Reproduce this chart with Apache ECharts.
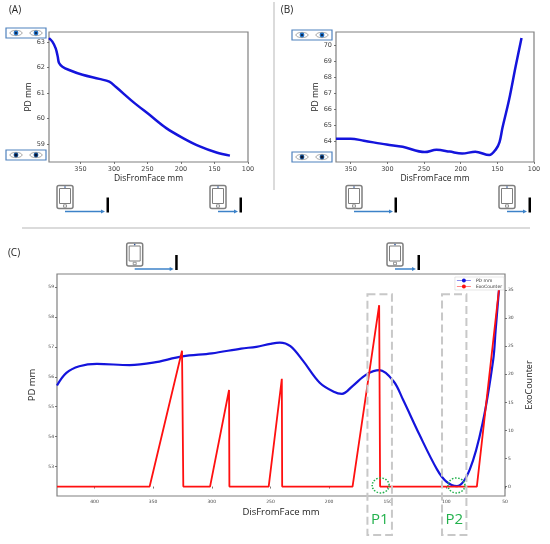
<!DOCTYPE html>
<html>
<head>
<meta charset="utf-8">
<script src="https://cdn.jsdelivr.net/npm/echarts@6/dist/echarts.min.js"></script>
<style>
html, body { margin: 0; padding: 0; background: #fff; }
#main { width: 550px; height: 544px; }
</style>
</head>
<body>
<div id="main"></div>
<script>
// (A) PD vs distance, far -> near
var aDist = [397, 392, 387, 384, 382, 377, 367, 347, 322, 307, 297, 272, 247, 222, 197, 172, 147, 127];
var aPD = [63.16, 63.02, 62.76, 62.44, 62.18, 62.04, 61.91, 61.72, 61.56, 61.45, 61.24, 60.67, 60.15, 59.63, 59.24, 58.91, 58.67, 58.55];
var aXTicks = [350, 300, 250, 200, 150, 100];
var aYTicks = [59, 60, 61, 62, 63];

// (B)
var bDist = [370, 350, 332, 301, 279, 249, 233, 215, 198, 180, 161, 152, 147, 143, 134, 125, 117];
var bPD = [64.17, 64.17, 64.04, 63.8, 63.66, 63.33, 63.47, 63.36, 63.24, 63.35, 63.14, 63.5, 63.95, 64.85, 66.6, 68.7, 70.46];
var bXTicks = [350, 300, 250, 200, 150, 100];
var bYTicks = [64, 65, 66, 67, 68, 69, 70];

// (C) PD mm and ExoCounter
var cDist = [432, 424, 413, 398, 370, 350, 325, 300, 275, 262, 250, 242, 233, 222, 208, 196, 189, 180, 168, 157, 145, 137, 123, 108, 100, 91, 80, 69, 60, 58, 55];
var cPD = [55.71, 56.13, 56.35, 56.43, 56.39, 56.47, 56.68, 56.78, 56.94, 57.0, 57.1, 57.14, 57.02, 56.52, 55.8, 55.5, 55.43, 55.69, 56.08, 56.22, 55.85, 55.24, 54.07, 52.91, 52.5, 52.35, 52.91, 54.47, 56.58, 57.55, 58.97];
var exoDist = [432, 353, 325.4, 324.3, 301.5, 285.3, 285, 251.5, 240.3, 240, 180, 157.3, 156.5, 74, 54.5];
var exoCount = [0, 0, 24.2, 0, 0, 17.2, 0, 0, 19.2, 0, 0, 32.3, 0, 0, 36.3];
var cXTicks = [400, 350, 300, 250, 200, 150, 100, 50];
var cYTicks = [53, 54, 55, 56, 57, 58, 59];
var exoTicks = [0, 5, 10, 15, 20, 25, 30, 35];

// annotated zones on (C)
var zoneNames = ['P1', 'P2'];
var zoneRanges = [[167.3, 146.4], [103.7, 82.9]];
var zoneCentres = [156, 91.4];

function pairs(xs, ys) {
    return xs.map(function(x, i) { return [x, ys[i]]; });
}

var blue = '#1414dc';
var red = '#ff1010';
var green = '#22b14c';

function axis(o) {
    var fs = o.small ? 4.5 : 6.5;
    return {
        type: 'value',
        gridIndex: o.grid,
        position: o.position,
        min: o.min,
        max: o.max,
        inverse: !!o.inverse,
        name: o.name,
        nameLocation: 'middle',
        nameGap: o.nameGap,
        nameTextStyle: { fontFamily: 'Open Sans', fontSize: o.nameSize, color: '#222' },
        axisLine: { show: false },
        axisTick: { show: true, customValues: o.ticks, length: 2, lineStyle: { color: '#555', width: 0.8 } },
        axisLabel: { customValues: o.ticks, fontFamily: 'DejaVu Sans', fontSize: fs, color: '#444', margin: o.small ? 3 : 4 },
        splitLine: { show: false }
    };
}

function tabletIcon(x, y, len) {
    var ay = y + 26;
    var ex = x + 8 + len;
    return {
        type: 'group',
        children: [
            { type: 'rect', shape: { x: x, y: y, width: 16, height: 23, r: 2 }, style: { fill: '#fff', stroke: '#7f7f7f', lineWidth: 1.5 } },
            { type: 'rect', shape: { x: x + 2.5, y: y + 3, width: 11, height: 15 }, style: { fill: 'none', stroke: '#7f7f7f', lineWidth: 1 } },
            { type: 'circle', shape: { cx: x + 8, cy: y + 1.6, r: 0.8 }, style: { fill: '#2f5597' } },
            { type: 'rect', shape: { x: x + 6.5, y: y + 19.3, width: 3, height: 2.4 }, style: { fill: 'none', stroke: '#7f7f7f', lineWidth: 0.8 } },
            { type: 'line', shape: { x1: x + 8, y1: ay, x2: ex - 3, y2: ay }, style: { stroke: '#3c82c8', lineWidth: 1.5 } },
            { type: 'polygon', shape: { points: [[ex, ay], [ex - 4, ay - 2], [ex - 4, ay + 2]] }, style: { fill: '#3c82c8' } },
            { type: 'rect', shape: { x: ex + 1.5, y: y + 12, width: 2.5, height: 15 }, style: { fill: '#000' } }
        ]
    };
}

function eyeBox(x, y, near) {
    var kids = [
        { type: 'rect', shape: { x: x, y: y, width: 40, height: 10 }, style: { fill: '#fff', stroke: '#4f81bd', lineWidth: 1.2 } }
    ];
    [x + 10, x + 30].forEach(function(cx) {
        var cy = y + 5;
        kids.push({ type: 'ellipse', shape: { cx: cx, cy: cy, rx: 6, ry: 2.6 }, style: { fill: '#fff', stroke: '#8c8c8c', lineWidth: 0.8 } });
        kids.push({ type: 'circle', shape: { cx: cx, cy: cy, r: 2.4 }, style: { fill: near ? '#1b5a9e' : '#1f70c4' } });
        kids.push({ type: 'circle', shape: { cx: cx, cy: cy, r: near ? 1.5 : 1 }, style: { fill: '#0a1430' } });
    });
    return { type: 'group', children: kids };
}

function label(text, x, y) {
    return { type: 'text', x: x, y: y, style: { text: text, fontFamily: 'Open Sans', fontSize: 10, fill: '#222', align: 'center', verticalAlign: 'middle' } };
}

var chart = echarts.init(document.getElementById('main'), null, { renderer: 'canvas' });

var gridStyle = { show: true, borderColor: '#808080', borderWidth: 1.2, backgroundColor: '#fff' };

var option = {
    animation: false,
    backgroundColor: '#fff',
    grid: [
        Object.assign({ left: 49, top: 32, width: 199, height: 130 }, gridStyle),
        Object.assign({ left: 336, top: 32, width: 198, height: 130 }, gridStyle),
        Object.assign({ left: 57, top: 274, width: 448, height: 222 }, gridStyle)
    ],
    xAxis: [
        axis({ grid: 0, min: 100, max: 397, inverse: true, ticks: aXTicks, name: 'DisFromFace mm', nameGap: 12, nameSize: 8.5 }),
        axis({ grid: 1, min: 100, max: 370, inverse: true, ticks: bXTicks, name: 'DisFromFace mm', nameGap: 12, nameSize: 8.5 }),
        axis({ grid: 2, min: 50, max: 432, inverse: true, ticks: cXTicks, small: true, name: 'DisFromFace mm', nameGap: 11, nameSize: 9.5 })
    ],
    yAxis: [
        axis({ grid: 0, min: 58.3, max: 63.4, ticks: aYTicks, name: 'PD mm', nameGap: 13, nameSize: 8.5 }),
        axis({ grid: 1, min: 62.71, max: 70.84, ticks: bYTicks, name: 'PD mm', nameGap: 13, nameSize: 8.5 }),
        axis({ grid: 2, min: 52.02, max: 59.43, ticks: cYTicks, small: true, name: 'PD mm', nameGap: 12, nameSize: 9.5 }),
        axis({ grid: 2, position: 'right', min: -1.68, max: 37.86, ticks: exoTicks, small: true, name: 'ExoCounter', nameGap: 13, nameSize: 9 })
    ],
    legend: {
        data: ['PD mm', 'ExoCounter'],
        orient: 'vertical',
        right: 46,
        top: 277,
        itemWidth: 14,
        itemHeight: 4,
        itemGap: 1,
        padding: [1, 2],
        backgroundColor: '#fff',
        borderColor: '#ccc',
        borderWidth: 0.5,
        textStyle: { fontFamily: 'DejaVu Sans', fontSize: 4.5, color: '#333' },
        icon: 'path://M0,2.2H14V2.8H0Z M7,0.5A2,2 0 1 1 7,4.5A2,2 0 1 1 7,0.5Z'
    },
    series: [
        {
            name: 'A', type: 'line', xAxisIndex: 0, yAxisIndex: 0,
            data: pairs(aDist, aPD), smooth: 0.35, showSymbol: false,
            lineStyle: { color: blue, width: 2.5 }, itemStyle: { color: blue }
        },
        {
            name: 'B', type: 'line', xAxisIndex: 1, yAxisIndex: 1,
            data: pairs(bDist, bPD), smooth: 0.35, showSymbol: false,
            lineStyle: { color: blue, width: 2.5 }, itemStyle: { color: blue }
        },
        {
            name: 'PD mm', type: 'line', xAxisIndex: 2, yAxisIndex: 2,
            data: pairs(cDist, cPD), smooth: 0.35, showSymbol: false,
            lineStyle: { color: blue, width: 2.2 }, itemStyle: { color: blue }
        },
        {
            name: 'ExoCounter', type: 'line', xAxisIndex: 2, yAxisIndex: 3,
            data: pairs(exoDist, exoCount), showSymbol: false,
            lineStyle: { color: red, width: 1.8 }, itemStyle: { color: red },
            markPoint: {
                symbol: 'circle',
                symbolSize: [17, 15],
                label: { show: false },
                itemStyle: { color: 'rgba(0,0,0,0)', borderColor: green, borderWidth: 1.5, borderType: 'dotted' },
                data: zoneCentres.map(function(x) { return { coord: [x, 0.2] }; })
            }
        }
    ]
};
chart.setOption(option);

var elements = [
    { type: 'line', shape: { x1: 274, y1: 2, x2: 274, y2: 190 }, style: { stroke: '#cfcfcf', lineWidth: 1.5 } },
    { type: 'line', shape: { x1: 22, y1: 228, x2: 530, y2: 228 }, style: { stroke: '#cfcfcf', lineWidth: 1.5 } },
    label('(A)', 15, 10), label('(B)', 287, 10), label('(C)', 14, 253),
    eyeBox(6, 28, false), eyeBox(6, 150, true),
    eyeBox(292, 30, false), eyeBox(292, 152, true),
    tabletIcon(57, 185.5, 40), tabletIcon(210, 185.5, 20),
    tabletIcon(346, 185.5, 39), tabletIcon(499, 185.5, 20),
    tabletIcon(126.7, 243, 39), tabletIcon(387, 243, 21)
];

// dashed boxes around the P1 / P2 zones, placed through the (C) x axis
zoneRanges.forEach(function(r, i) {
    var x1 = chart.convertToPixel({ xAxisIndex: 2 }, r[0]);
    var x2 = chart.convertToPixel({ xAxisIndex: 2 }, r[1]);
    elements.push({
        type: 'rect', z: 10,
        shape: { x: x1, y: 294.3, width: x2 - x1, height: 240.7 },
        style: { fill: 'none', stroke: '#c8c8c8', lineWidth: 2, lineDash: [8, 4] }
    });
    elements.push({
        type: 'text', z: 10, x: (x1 + x2) / 2, y: 520,
        style: { text: zoneNames[i], fontFamily: 'Open Sans', fontSize: 15, fill: green, align: 'center', verticalAlign: 'middle' }
    });
});

chart.setOption({ graphic: { elements: elements } });
</script>
</body>
</html>
